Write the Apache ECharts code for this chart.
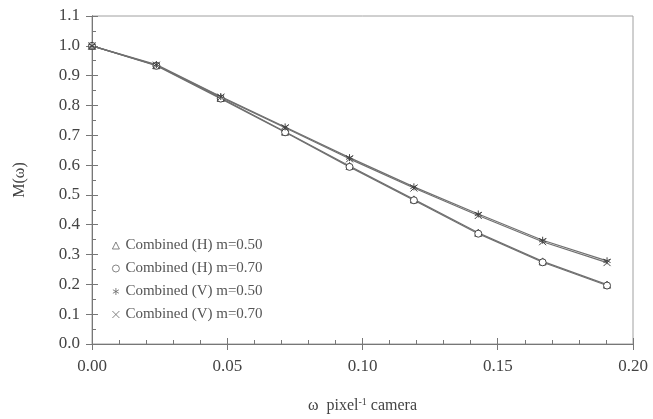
<!DOCTYPE html>
<html>
<head>
<meta charset="UTF-8">
<script src="https://cdn.jsdelivr.net/npm/echarts@6/dist/echarts.min.js"></script>
<style>
  body { margin: 0; background: #fff; }
  #main { width: 653px; height: 419px; }
</style>
</head>
<body>
<div id="main"></div>
<script>
// spatial frequency (cycles per camera pixel)
var freq = [0, 0.0238, 0.0476, 0.0714, 0.0952, 0.119, 0.1428, 0.1666, 0.1904];
var hM50 = [1.0, 0.935, 0.825, 0.712, 0.597, 0.485, 0.373, 0.277, 0.199];
var hM70 = [1.0, 0.933, 0.823, 0.710, 0.594, 0.482, 0.370, 0.274, 0.196];
var vM50 = [1.0, 0.937, 0.830, 0.728, 0.625, 0.527, 0.436, 0.348, 0.279];
var vM70 = [1.0, 0.935, 0.828, 0.725, 0.621, 0.523, 0.431, 0.343, 0.273];
var names = ['Combined (H) m=0.50', 'Combined (H) m=0.70', 'Combined (V) m=0.50', 'Combined (V) m=0.70'];

var starPath = 'path://M5,0L5,10M0.7,2.5L9.3,7.5M0.7,7.5L9.3,2.5';
var crossPath = 'path://M0,0L10,10M10,0L0,10';
var serif = 'Liberation Serif';

function pairs(ys) {
    return freq.map(function (x, i) { return [x, ys[i]]; });
}

function makeSeries(name, ys, symbol, size) {
    return {
        name: name,
        type: 'line',
        xAxisIndex: 0,
        yAxisIndex: 0,
        data: pairs(ys),
        symbol: symbol,
        symbolSize: size,
        lineStyle: { color: '#707070', width: 1.2 },
        itemStyle: { color: '#fff', borderColor: '#444', borderWidth: 1 },
        animation: false
    };
}

var chart = echarts.init(document.getElementById('main'));
var option = {
    backgroundColor: '#fff',
    grid: { left: 92, right: 20, top: 16, bottom: 75, show: true, borderColor: '#a0a0a0', borderWidth: 1 },
    legend: {
        orient: 'vertical',
        left: 107,
        top: 233,
        itemGap: 8,
        itemWidth: 7,
        itemHeight: 7,
        itemStyle: { color: '#fff', borderColor: '#666', borderWidth: 0.8 },
        textStyle: { fontFamily: serif, fontSize: 15, color: '#555', padding: [0, 0, 0, 1] },
        data: [
            { name: names[0], icon: 'triangle' },
            { name: names[1], icon: 'circle' },
            { name: names[2], icon: starPath },
            { name: names[3], icon: crossPath }
        ]
    },
    xAxis: [{
        type: 'value',
        min: 0, max: 0.2, interval: 0.05,
        name: 'ω  pixel{sup|-1} camera',
        nameLocation: 'middle',
        nameGap: 53,
        nameTextStyle: {
            fontFamily: serif, fontSize: 16, color: '#444',
            rich: { sup: { fontFamily: serif, fontSize: 10, color: '#444', verticalAlign: 'top', padding: [0, 0, 8, 0] } }
        },
        axisLine: { lineStyle: { color: '#777' } },
        axisTick: { inside: false, length: 6, lineStyle: { color: '#777' } },
        axisLabel: { margin: 14, fontFamily: serif, fontSize: 17, color: '#444', formatter: function (v) { return v.toFixed(2); } },
        splitLine: { show: false }
    }, {
        type: 'value',
        position: 'bottom',
        min: 0, max: 0.2, interval: 0.05,
        axisLine: { lineStyle: { color: '#777' } },
        axisTick: { inside: true, length: 6, lineStyle: { color: '#777' } },
        minorTick: { show: true, splitNumber: 5, length: 4, lineStyle: { color: '#777' } },
        axisLabel: { show: false },
        splitLine: { show: false }
    }],
    yAxis: [{
        type: 'value',
        min: 0, max: 1.1, interval: 0.1,
        name: 'M(ω)',
        nameLocation: 'middle',
        nameGap: 64,
        nameRotate: 90,
        nameTextStyle: { fontFamily: serif, fontSize: 16, color: '#444' },
        axisLine: { lineStyle: { color: '#777' } },
        axisTick: { inside: false, length: 6, lineStyle: { color: '#777' } },
        axisLabel: { margin: 12, fontFamily: serif, fontSize: 17, color: '#444', formatter: function (v) { return v.toFixed(1); } },
        splitLine: { show: false }
    }, {
        type: 'value',
        position: 'left',
        min: 0, max: 1.1, interval: 0.1,
        axisLine: { lineStyle: { color: '#777' } },
        axisTick: { inside: true, length: 6, lineStyle: { color: '#777' } },
        minorTick: { show: true, splitNumber: 2, length: 4, lineStyle: { color: '#777' } },
        axisLabel: { show: false },
        splitLine: { show: false }
    }],
    series: [
        makeSeries(names[0], hM50, 'triangle', 7),
        makeSeries(names[1], hM70, 'circle', 7),
        makeSeries(names[2], vM50, starPath, 7),
        makeSeries(names[3], vM70, crossPath, 7)
    ]
};
chart.setOption(option);
</script>
</body>
</html>
